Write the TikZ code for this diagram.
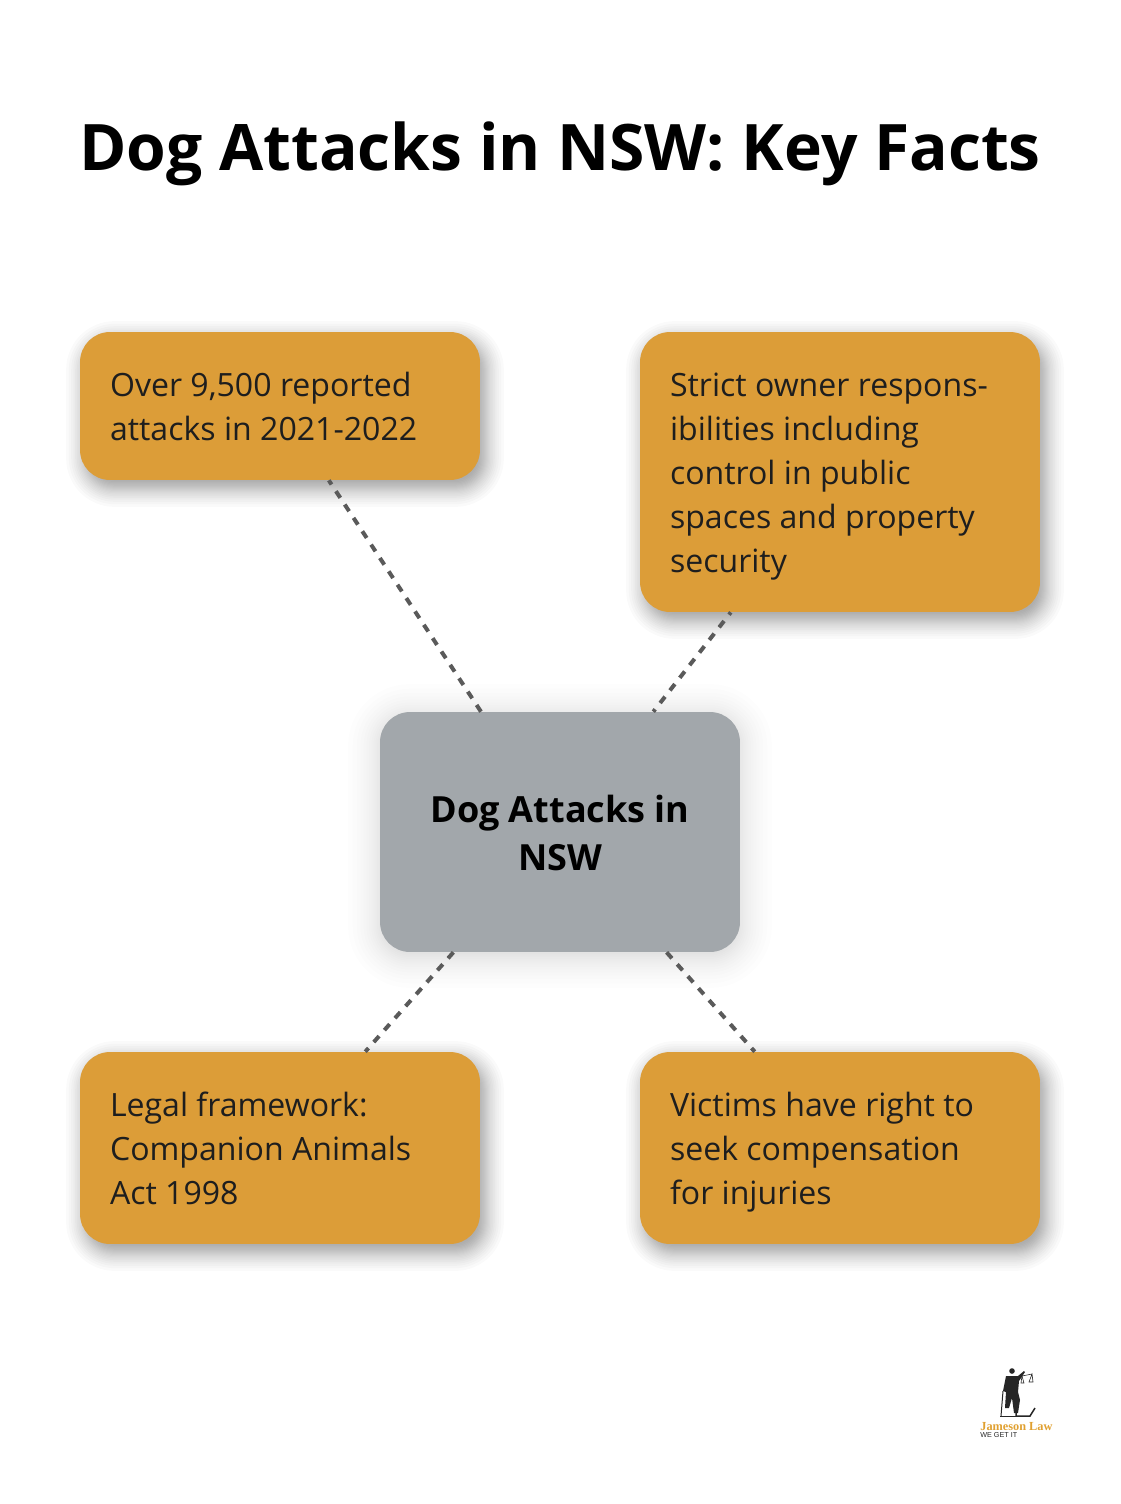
\documentclass[tikz,border=0pt]{standalone}
\usepackage{fontspec}
\usepackage{tikz}
\setmainfont{Open Sans}
\newfontfamily\logoserif{Liberation Serif}
\newfontfamily\logosans{Liberation Sans}
\usetikzlibrary{backgrounds}

\tikzset{
  factbox/.style={rectangle, fill=factorange, rounded corners=0.6cm, minimum width=8cm, text width=6.8cm,
    align=flush left, inner sep=0pt, text=textdark, font=\fontsize{18.25}{25}\selectfont,
    execute at begin node={\rule{0pt}{22pt}}, execute at end node=\strut},
  hubbox/.style={rectangle, fill=hubgray, rounded corners=0.6cm, minimum width=7.2cm, minimum height=4.8cm,
    text width=6cm, align=flush center, inner sep=0pt, text=black,
    font=\fontsize{20.5}{27.2}\selectfont\bfseries,
    execute at begin node={\rule{0pt}{16.3pt}}},
  link/.style={draw=linkgray, line width=0.08cm, dash pattern=on 0.16cm off 0.16cm},
  logotext/.style={inner sep=0pt, anchor=west}
}
\definecolor{factorange}{HTML}{DC9D38}
\definecolor{hubgray}{HTML}{A2A7AB}
\definecolor{linkgray}{HTML}{5A5A5A}
\definecolor{textdark}{HTML}{1E1E1E}
\definecolor{logoorange}{HTML}{E0A030}
\definecolor{logoblack}{HTML}{262626}

% soft shadow under a box: name, shift x, shift y, spread, opacity of a layer
\newcommand{\softshadow}[5]{
  \begin{scope}[on background layer]
    \foreach \k in {0,...,23} {
      \pgfmathsetmacro{\uu}{(\k+0.5)/12-1}
      \pgfmathsetmacro{\grow}{#4*(0.6*\uu+0.4*\uu*\uu*\uu)}
      \pgfmathsetmacro{\rad}{max(0.6+\grow*0.02,0.1)}
      \fill[black, opacity=#5, rounded corners=\rad cm]
        ([shift={(#2-\grow,#3+\grow)}]#1.south west) rectangle ([shift={(#2+\grow,#3-\grow)}]#1.north east);
    }
  \end{scope}
}

\begin{document}
\begin{tikzpicture}[x=0.02cm, y=-0.02cm]
  \useasboundingbox (0,0) rectangle (1120,1504);

  % Title
  \node[inner sep=0pt, text=black, font=\fontsize{36.5}{44}\selectfont\bfseries] (title) at (560,154) {Dog Attacks in NSW: Key Facts};

  % Boxes
  \node[factbox, minimum height=2.96cm] (reported) at (280,406) {Over 9,500 reported\\attacks in 2021-2022};
  \node[factbox, minimum height=5.6cm] (owner) at (840,472) {Strict owner respons-\\ibilities including\\control in public\\spaces and property\\security};
  \node[hubbox] (hub) at (560,832) {Dog Attacks in\\NSW};
  \node[factbox, minimum height=3.84cm] (legal) at (280,1148) {Legal framework:\\Companion Animals\\Act 1998};
  \node[factbox, minimum height=3.84cm] (victims) at (840,1148) {Victims have right to\\seek compensation\\for injuries};

  % Shadows
  \softshadow{reported}{5}{8}{20}{0.02}
  \softshadow{owner}{5}{8}{20}{0.02}
  \softshadow{legal}{5}{8}{20}{0.02}
  \softshadow{victims}{5}{8}{20}{0.02}
  \softshadow{hub}{0}{4}{34}{0.008}

  % Links
  \draw[link] (hub) -- (reported);
  \draw[link, dash phase=0.1cm] (owner) -- (hub);
  \draw[link] (hub) -- (legal);
  \draw[link] (hub) -- (victims);

  % Logo
  \fill[logoblack] (1012,1371) circle (2.8);
  \fill[logoblack] (1006,1376) -- (1018,1376) -- (1024,1371) -- (1025,1372) -- (1019,1381) -- (1018,1392) -- (1020,1400)
    -- (1018,1413) -- (1014,1413) -- (1012,1398) -- (1009,1408) -- (1005,1408) -- (1006,1392) -- (1003,1391) -- cycle;
  \draw[logoblack, line width=0.03cm] (1016,1392) -- (1016,1416) -- (1030,1416) -- (1035,1408);
  \draw[logoblack, line width=0.02cm] (1000,1416) -- (1016,1416);
  \draw[logoblack, line width=0.02cm] (1001,1416) -- (1003,1391);
  \draw[logoblack, line width=0.012cm] (1022,1376) -- (1032,1374) (1022,1376) -- (1024,1383) -- (1021,1383) -- cycle
    (1032,1374) -- (1033,1382) -- (1029,1382) -- cycle;
  \node[logotext, text=logoorange, font=\logoserif\fontsize{7}{8}\selectfont\bfseries] (logoname) at (980,1427) {Jameson Law};
  \node[logotext, text=logoblack, font=\logosans\fontsize{4.1}{5}\selectfont] (logotag) at (980,1435.5) {WE GET IT};
\end{tikzpicture}
\end{document}
